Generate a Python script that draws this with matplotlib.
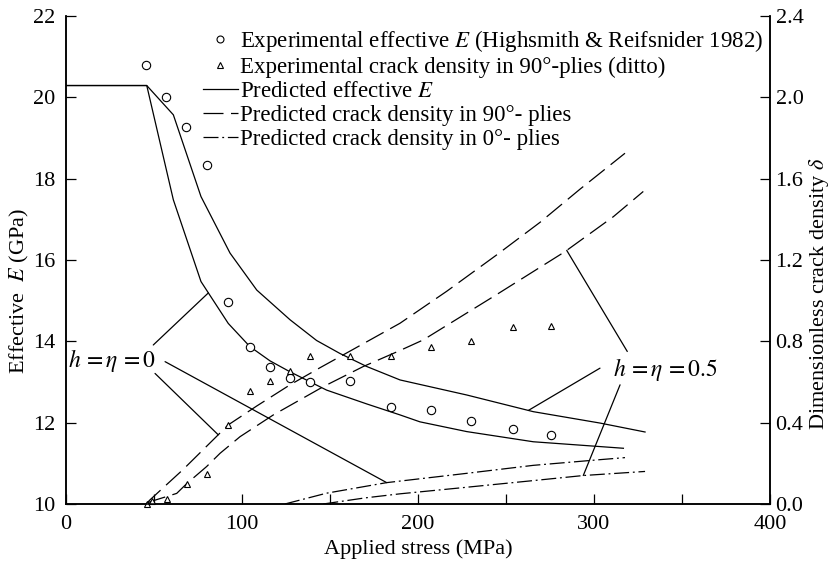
import numpy as np
import matplotlib
matplotlib.use('Agg')
import matplotlib.pyplot as plt
from matplotlib.lines import Line2D

# experimental data (Highsmith & Reifsnider 1982)
exp_E_stress = [45.5, 56.8, 68.2, 80.1, 91.9, 104.4, 115.7, 127.5, 138.8, 161.2,
                184.5, 207.4, 229.9, 254.0, 275.7]
exp_E = [20.80, 20.00, 19.27, 18.34, 14.97, 13.87, 13.38, 13.11, 13.01, 13.03,
         12.39, 12.31, 12.05, 11.85, 11.70]

exp_d_stress = [45.8, 48.7, 57.2, 68.6, 80.3, 92.2, 104.4, 115.9, 127.5, 138.8,
                161.4, 184.5, 207.4, 229.9, 254.0, 275.7]
exp_d = [0.0, 0.016, 0.023, 0.10, 0.148, 0.387, 0.557, 0.607, 0.656, 0.728,
         0.728, 0.728, 0.774, 0.802, 0.871, 0.876]

# predicted effective E, h = eta = 0
E0_stress = [0, 45.9, 61.0, 76.7, 92.2, 104.5, 115.9, 127.3, 148.1, 170.9,
             189.8, 201.1, 227.7, 265.5, 316.7]
E0 = [20.29, 20.29, 17.48, 15.47, 14.44, 13.87, 13.52, 13.25, 12.80, 12.46,
      12.19, 12.02, 11.78, 11.53, 11.37]

# predicted effective E, h = eta = 0.5
E5_stress = [0, 45.9, 61.0, 76.7, 93.2, 108.4, 127.3, 142.4, 155.7, 170.9,
             189.8, 227.7, 265.5, 303.4, 329.0]
E5 = [20.29, 20.29, 19.57, 17.56, 16.17, 15.26, 14.53, 14.02, 13.70, 13.38,
      13.05, 12.68, 12.27, 11.99, 11.77]

# predicted crack density in 90 deg plies
d90_0_stress = [45.5, 47.7, 66.6, 92.2, 108.4, 127.3, 144.3, 161.4, 189.8, 216.3,
                244.7, 269.3, 292.0, 317.6]
d90_0 = [0.0, 0.02, 0.17, 0.389, 0.482, 0.586, 0.670, 0.752, 0.889, 1.046,
         1.225, 1.385, 1.548, 1.725]

d90_5_stress = [45.8, 47.7, 62.9, 68.6, 79.9, 87.5, 98.9, 117.8, 146.2, 168.9,
                189.8, 203.0, 244.7, 283.5, 311.0, 328.0]
d90_5 = [0.0, 0.011, 0.052, 0.10, 0.184, 0.249, 0.331, 0.438, 0.577, 0.676,
         0.755, 0.807, 1.030, 1.241, 1.413, 1.537]

# predicted crack density in 0 deg plies
d0_0_stress = [124.4, 148.0, 182.2, 225.0, 265.5, 303.4, 317.6]
d0_0 = [0.0, 0.053, 0.105, 0.148, 0.19, 0.218, 0.228]

d0_5_stress = [146.2, 170.0, 189.8, 225.0, 265.5, 294.0, 329.0]
d0_5 = [0.0, 0.03, 0.05, 0.08, 0.115, 0.14, 0.16]

legend_labels = [
    'Experimental effective $E$ (Highsmith & Reifsnider 1982)',
    'Experimental crack density in 90°-plies (ditto)',
    'Predicted effective $E$',
    'Predicted crack density in 90°- plies',
    'Predicted crack density in 0°- plies',
]

LW = 0.9
DASH = (16, 6)
DASHDOT = (12, 3, 1.5, 3)


def on_curve(xs, ys, x):
    return (x, float(np.interp(x, xs, ys)))


def main():
    plt.rcParams['font.family'] = ['Liberation Serif', 'DejaVu Serif']
    plt.rcParams['mathtext.fontset'] = 'stix'
    plt.rcParams['font.size'] = 16

    fig = plt.figure(figsize=(8.33, 5.65), dpi=100)
    ax = fig.add_axes([0.0792, 0.108, 0.8452, 0.8637])
    ax2 = ax.twinx()

    ax.set_xlim(0, 400)
    ax.set_ylim(10, 22)
    ax2.set_ylim(0, 2.4)

    # E curves on the left axis
    ax.plot(E0_stress, E0, color='k', lw=LW)
    ax.plot(E5_stress, E5, color='k', lw=LW)
    ax.plot(exp_E_stress, exp_E, 'o', ms=6, mfc='white', mec='k', mew=0.8,
            clip_on=False)

    # crack density on the right axis
    ax2.plot(d90_0_stress, d90_0, color='k', lw=LW, dashes=DASH)
    ax2.plot(d90_5_stress, d90_5, color='k', lw=LW, dashes=DASH)
    ax2.plot(d0_0_stress, d0_0, color='k', lw=LW, dashes=DASHDOT)
    ax2.plot(d0_5_stress, d0_5, color='k', lw=LW, dashes=DASHDOT)
    ax2.plot(exp_d_stress, exp_d, '^', ms=5, mfc='white', mec='k', mew=0.8,
             clip_on=False)

    # labels with leader lines
    ax.text(26.4, 13.54, r'$h\,=\eta\,=0$', fontsize=17, ha='center', va='center')
    ax.text(340.3, 13.30, r'$h\,=\eta\,=0.5$', fontsize=17, ha='center', va='center')
    lead = dict(arrowstyle='-', lw=LW, color='k', shrinkA=0, shrinkB=0)
    ax.annotate('', xy=on_curve(E0_stress, E0, 80.9), xytext=(49.6, 13.91),
                arrowprops=lead)
    ax.annotate('', xy=on_curve(d0_0_stress, d0_0, 182.2), xycoords=ax2.transData,
                xytext=(56.3, 13.50), textcoords=ax.transData, arrowprops=lead)
    ax.annotate('', xy=on_curve(d90_0_stress, d90_0, 86.5), xycoords=ax2.transData,
                xytext=(50.6, 13.21), textcoords=ax.transData, arrowprops=lead)
    ax.annotate('', xy=on_curve(d90_5_stress, d90_5, 284.5), xycoords=ax2.transData,
                xytext=(318.9, 13.75), textcoords=ax.transData, arrowprops=lead)
    ax.annotate('', xy=on_curve(E5_stress, E5, 262.7), xytext=(303.4, 13.34),
                arrowprops=lead)
    ax.annotate('', xy=on_curve(d0_5_stress, d0_5, 293.9), xycoords=ax2.transData,
                xytext=(314.8, 12.93), textcoords=ax.transData, arrowprops=lead)

    # axes styling
    ax.set_xticks(np.arange(0, 401, 100))
    ax.set_xticks(np.arange(50, 400, 100), minor=True)
    ax.set_yticks(np.arange(10, 23, 2))
    ax2.set_yticks(np.arange(0, 2.41, 0.4))
    ax2.set_yticklabels(['%.1f' % v for v in np.arange(0, 2.41, 0.4)])
    for a in (ax, ax2):
        a.spines['top'].set_visible(False)
        for s in a.spines.values():
            s.set_linewidth(1.1)
        a.tick_params(which='both', direction='in', length=7, width=0.9,
                      labelsize=16, pad=4)
    ax.tick_params(axis='x', which='both', top=False, pad=8)
    ax.tick_params(axis='y', pad=8)

    ax.set_xlabel('Applied stress (MPa)', fontsize=16, labelpad=4)
    ax.set_ylabel('Effective  $E$ (GPa)', fontsize=16)
    ax.yaxis.set_label_coords(-0.05, 0.436)
    ax2.set_ylabel(r'Dimensionless crack density $\delta$', fontsize=16)
    ax2.yaxis.set_label_coords(1.052, 0.43)

    # legend
    handles = [
        Line2D([], [], ls='none', marker='o', ms=5, mfc='white', mec='k', mew=0.8),
        Line2D([], [], ls='none', marker='^', ms=4.5, mfc='white', mec='k', mew=0.8),
        Line2D([], [], color='k', lw=LW),
        Line2D([], [], color='k', lw=LW, dashes=DASH),
        Line2D([], [], color='k', lw=LW, dashes=DASHDOT),
    ]
    ax.legend(handles, legend_labels, loc='upper left', bbox_to_anchor=(0.194, 0.975),
              frameon=False, fontsize=16.5, handlelength=1.55, handletextpad=0.1,
              labelspacing=0.13, borderpad=0, borderaxespad=0)

    fig.savefig('out.png', dpi=100)


if __name__ == '__main__':
    main()
